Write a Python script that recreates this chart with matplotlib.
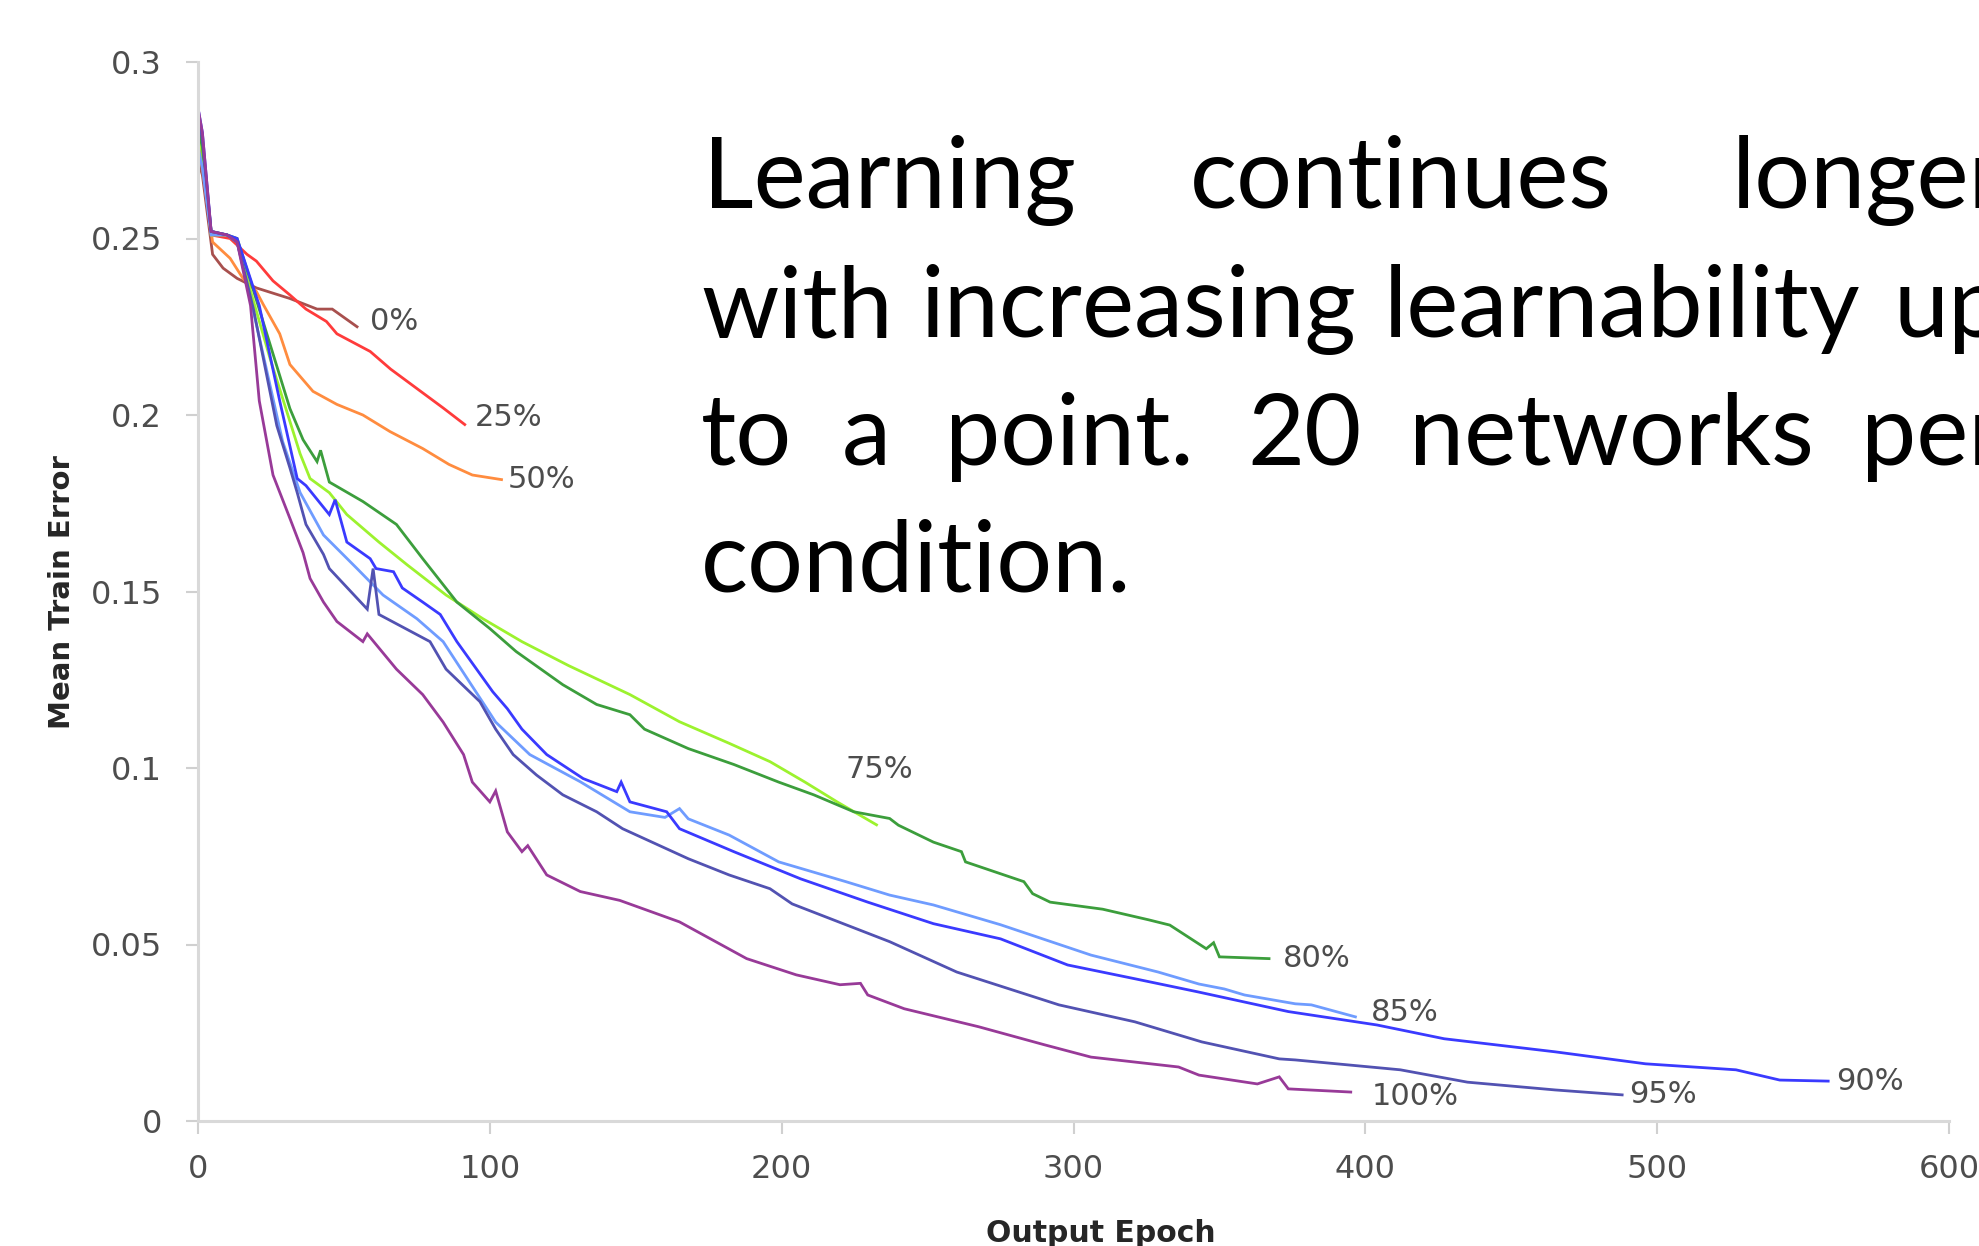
import matplotlib.pyplot as plt


# mean train error per output epoch (one pair per condition)
ep_0 = [0, 1.5, 5, 8.6, 13.4, 20, 31.5, 40.8, 46, 54.5]
err_0 = [0.272, 0.268, 0.2455, 0.2416, 0.2387, 0.236, 0.233, 0.230, 0.230, 0.225]

ep_25 = [0, 1.5, 4.5, 11, 16.8, 20, 25.7, 31.5, 37, 44, 47.6, 59, 66, 75, 84, 91.4]
err_25 = [0.280, 0.272, 0.251, 0.250, 0.2455, 0.2436, 0.238, 0.234, 0.230, 0.2265,
          0.223, 0.218, 0.213, 0.2075, 0.202, 0.1973]

ep_50 = [0, 1.5, 5, 11, 15.4, 20, 22.3, 28, 31.5, 39.4, 47.6, 56.5, 65.8, 77, 86, 94, 104]
err_50 = [0.276, 0.270, 0.249, 0.2444, 0.2387, 0.235, 0.2314, 0.223, 0.2143, 0.2067,
          0.203, 0.200, 0.1953, 0.1905, 0.186, 0.183, 0.1817]

ep_75 = [0, 1.5, 4.5, 10, 13.4, 17, 24.7, 35, 38.4, 45, 51, 62, 71.6, 85, 97.6, 111,
         127, 148, 165, 182, 196, 208, 219, 232.5]
err_75 = [0.279, 0.274, 0.251, 0.251, 0.249, 0.238, 0.216, 0.189, 0.182, 0.178, 0.1718,
          0.164, 0.1576, 0.149, 0.1423, 0.1358, 0.129, 0.1208, 0.1131, 0.107, 0.1018,
          0.096, 0.0904, 0.0839]

ep_80 = [0, 1.5, 4.5, 10, 13.4, 18, 24.7, 31.5, 36, 40.8, 42, 45, 56.5, 68, 77, 88.7,
         100, 109, 125, 136.6, 148, 153, 168, 183.6, 199, 211, 224.7, 237, 240, 252,
         261.6, 263, 283, 286, 292, 310, 325.7, 333, 345.5, 348, 350, 367]
err_80 = [0.281, 0.276, 0.252, 0.251, 0.250, 0.238, 0.220, 0.2018, 0.193, 0.1868, 0.190,
          0.181, 0.1755, 0.169, 0.1593, 0.147, 0.1395, 0.133, 0.1236, 0.118, 0.1151,
          0.111, 0.1055, 0.101, 0.096, 0.0924, 0.0876, 0.0857, 0.0838, 0.079, 0.0763,
          0.0734, 0.0678, 0.0644, 0.062, 0.060, 0.057, 0.0555, 0.0488, 0.0505, 0.0465,
          0.046]

ep_85 = [0, 1.5, 4.5, 10, 13.4, 20, 29, 35, 43, 54.5, 63.4, 75, 84, 102, 113.7, 131,
         148, 160, 165, 168, 182, 199, 222, 237, 252, 275, 306, 329, 343, 351.7, 358.6,
         376, 381.5, 396.6]
err_85 = [0.276, 0.270, 0.251, 0.251, 0.249, 0.2257, 0.1925, 0.178, 0.166, 0.1565, 0.149,
          0.1423, 0.1358, 0.113, 0.1038, 0.0961, 0.0876, 0.0860, 0.0885, 0.0856, 0.081,
          0.0734, 0.0678, 0.064, 0.0612, 0.0556, 0.047, 0.0422, 0.0388, 0.0374, 0.0357,
          0.0332, 0.0329, 0.0295]

ep_90 = [0, 1.5, 4.5, 10, 13.4, 21, 28, 34, 37, 45, 47, 51, 59, 61, 67, 70, 77, 83,
         88.7, 101, 106, 111, 119.5, 132, 143.5, 145, 148, 160.6, 165, 183.6, 206.5,
         229.5, 252, 275, 298, 321, 342.5, 373.6, 404, 427, 465, 496, 527, 542, 558.6]
err_90 = [0.287, 0.280, 0.252, 0.251, 0.250, 0.231, 0.204, 0.182, 0.180, 0.1718, 0.176,
          0.164, 0.1593, 0.1565, 0.1556, 0.151, 0.147, 0.1435, 0.1358, 0.1216, 0.1168,
          0.111, 0.1038, 0.097, 0.0933, 0.096, 0.0904, 0.0876, 0.0828, 0.0763, 0.0686,
          0.062, 0.0559, 0.0516, 0.0442, 0.0403, 0.0366, 0.031, 0.0272, 0.0233, 0.0196,
          0.0162, 0.0145, 0.0116, 0.0113]

ep_95 = [0, 1.5, 4.5, 10, 13.4, 19, 27, 31.5, 34, 37, 43, 45, 58, 60, 62, 79.5, 85,
         96.6, 102, 108, 116, 125, 136.6, 145.5, 168, 182, 196, 203.6, 237, 260, 295,
         321, 344, 370.5, 376, 412, 435, 465, 488]
err_95 = [0.285, 0.278, 0.252, 0.251, 0.249, 0.230, 0.197, 0.185, 0.178, 0.169, 0.1605,
          0.1565, 0.145, 0.1565, 0.1435, 0.1358, 0.128, 0.1188, 0.111, 0.1038, 0.098,
          0.0924, 0.0876, 0.0828, 0.0743, 0.0697, 0.0658, 0.0615, 0.0508, 0.0422, 0.0329,
          0.0281, 0.0224, 0.0176, 0.0173, 0.0145, 0.011, 0.0088, 0.0074]

ep_100 = [0, 1.5, 4.5, 10, 13.4, 18, 21, 25.7, 31.5, 36, 38.4, 43, 47.6, 56.5, 58, 68,
          77, 84, 91, 94, 100, 102, 106, 111, 113, 119.5, 131, 144.5, 165, 188, 205,
          220, 227, 229.5, 242, 267.5, 290, 306, 336, 343, 363, 370.5, 373.6, 395]
err_100 = [0.287, 0.280, 0.252, 0.251, 0.249, 0.231, 0.204, 0.183, 0.1707, 0.161, 0.1537,
           0.147, 0.1415, 0.1358, 0.138, 0.128, 0.1208, 0.113, 0.1038, 0.096, 0.0904,
           0.0935, 0.0819, 0.0763, 0.078, 0.0697, 0.065, 0.0625, 0.0564, 0.046, 0.0414,
           0.0386, 0.039, 0.0357, 0.0318, 0.0267, 0.0216, 0.0181, 0.0153, 0.013, 0.0105,
           0.0125, 0.0091, 0.0082]

conditions = ['0%', '25%', '50%', '75%', '80%', '85%', '90%', '95%', '100%']
epochs = [ep_0, ep_25, ep_50, ep_75, ep_80, ep_85, ep_90, ep_95, ep_100]
errors = [err_0, err_25, err_50, err_75, err_80, err_85, err_90, err_95, err_100]

y_ticks = [0, 0.05, 0.1, 0.15, 0.2, 0.25, 0.3]
y_ticklabels = ['0', '0.05', '0.1', '0.15', '0.2', '0.25', '0.3']
x_ticks = [0, 100, 200, 300, 400, 500, 600]

colours = ['#a8504e', '#ff3b3b', '#ff8c3f', '#9cf22e', '#3c9e3c',
           '#6f9cff', '#3a3aff', '#5252b2', '#983a98']
# where each end label sits relative to the last point (pixels)
label_offsets = [(13, 5), (10, 7), (6, 0), (-31, 55), (14, 0),
                 (15, 4), (8, 0), (7, 0), (21, -4)]

W, H = 1979, 1246
fig = plt.figure(figsize=(W / 100, H / 100), dpi=100)
ax = fig.add_axes([198 / W, 1 - 1121 / H, (1949 - 198) / W, (1121 - 62) / H])

for x, y, c, lab, off in zip(epochs, errors, colours, conditions, label_offsets):
    ax.plot(x, y, color=c, lw=2.0, solid_joinstyle='miter')
    ax.annotate(lab, xy=(x[-1], y[-1]), xytext=off, textcoords='offset pixels',
                ha='left', va='center', fontsize=22, color='#4d4d4d',
                family='DejaVu Sans')

ax.set_xlim(0, 600)
ax.set_ylim(0, 0.3)
ax.set_xticks(x_ticks)
ax.set_yticks(y_ticks)
ax.set_yticklabels(y_ticklabels)
for s in ['top', 'right']:
    ax.spines[s].set_visible(False)
for s in ['left', 'bottom']:
    ax.spines[s].set_color('#d9d9d9')
    ax.spines[s].set_linewidth(2.2)
ax.tick_params(direction='out', length=9, width=1.5, color='#d0d0d0',
               labelsize=23, labelcolor='#4d4d4d')
ax.tick_params(axis='y', pad=17)
ax.tick_params(axis='x', pad=15)

fig.text(62 / W, 1 - 592 / H, 'Mean Train Error', rotation=90, ha='center', va='center',
         fontsize=21, fontweight='bold', color='#262626', family='DejaVu Sans')
fig.text(1101 / W, 1 - 1219 / H, 'Output Epoch', ha='center', va='top',
         fontsize=21.5, fontweight='bold', color='#262626', family='DejaVu Sans')

# justified caption block, partly running off the right edge
caption = [
    (208, [(703, 'Learning'), (1190, 'continues'), (1732, 'longer')]),
    (337, [(701, 'with'), (920, 'increasing'), (1384, 'learnability'), (1894, 'up')]),
    (465, [(701, 'to'), (842, 'a'), (945, 'point.'), (1247, '20'),
           (1409, 'networks'), (1861, 'per')]),
    (592, [(701, 'condition.')]),
]
for base, words in caption:
    for px, w in words:
        fig.text(px / W, 1 - base / H, w, ha='left', va='baseline',
                 fontsize=71, family='Lato', color='black')

fig.savefig('out.png', dpi=100)
